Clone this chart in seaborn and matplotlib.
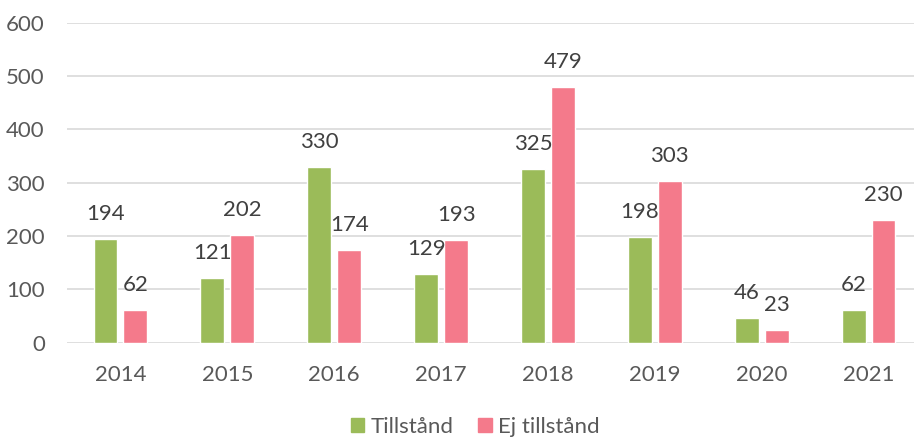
import matplotlib
matplotlib.use("Agg")
import matplotlib.pyplot as plt
import matplotlib.patches as mpatches
import seaborn as sns
import pandas as pd

years = ["2014", "2015", "2016", "2017", "2018", "2019", "2020", "2021"]
tillstand = [194, 121, 330, 129, 325, 198, 46, 62]
ej_tillstand = [62, 202, 174, 193, 479, 303, 23, 230]
series_names = ["Tillstånd", "Ej tillstånd"]
colors = ["#9BBB59", "#F47A8B"]
yticks = [0, 100, 200, 300, 400, 500, 600]

df = pd.DataFrame({
    "year": years * 2,
    "value": tillstand + ej_tillstand,
    "series": [series_names[0]] * len(years) + [series_names[1]] * len(years),
})

sns.set_style("white")
plt.rcParams["font.family"] = ["Lato", "DejaVu Sans"]
text_color = "#595959"

fig = plt.figure(figsize=(9.14, 4.41), dpi=100)
W, H = 914, 441
ax = fig.add_axes([67 / W, 1 - 342.7 / H, (922 - 67) / W, (342.7 - 22.7) / H])

sns.barplot(data=df, x="year", y="value", hue="series", order=years,
            hue_order=series_names, palette=colors, width=0.56, gap=0.2,
            saturation=1, legend=False, ax=ax)

ax.set_ylim(0, 600)
ax.set_yticks(yticks)
ax.set_xlim(-0.5, len(years) - 0.5)
ax.yaxis.grid(True, color="#D9D9D9", linewidth=1.2)
ax.set_axisbelow(True)
for s in ax.spines.values():
    s.set_visible(False)
ax.tick_params(axis="both", length=0, labelsize=16, labelcolor=text_color)
ax.tick_params(axis="y", pad=16)
ax.tick_params(axis="x", pad=16)
ax.set_xlabel("")
ax.set_ylabel("")

for cont in ax.containers:
    for bar in cont:
        h = bar.get_height()
        ax.annotate(f"{int(round(h))}", (bar.get_x() + bar.get_width() / 2, h),
                    xytext=(0, 18), textcoords="offset points",
                    ha="center", va="center", fontsize=16, color="#404040")

handles = [mpatches.Patch(color=c, label=n) for c, n in zip(colors, series_names)]
fig.legend(handles=handles, loc="center", bbox_to_anchor=(0.52, 0.032), ncol=2,
           frameon=False, fontsize=16, labelcolor=text_color,
           handlelength=0.6, handleheight=0.6, handletextpad=0.3,
           columnspacing=1.1)

fig.savefig("out.png", dpi=100)
